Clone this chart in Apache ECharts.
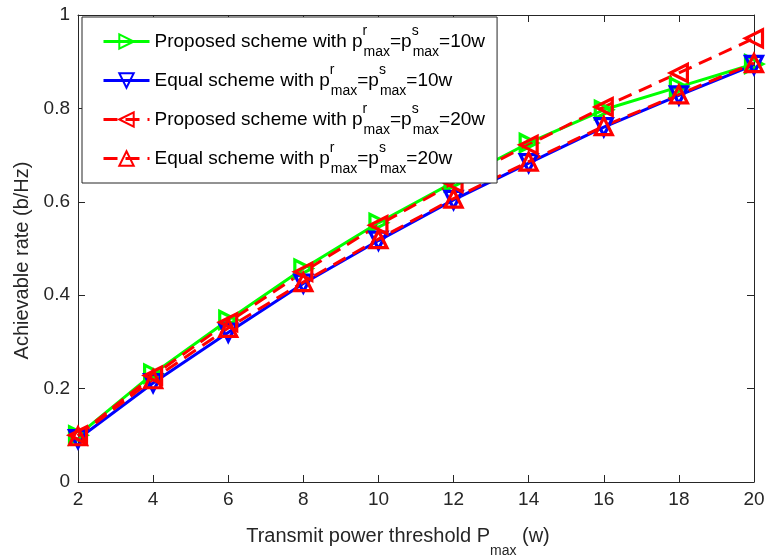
<!DOCTYPE html>
<html>
<head>
<meta charset="utf-8">
<script src="https://cdn.jsdelivr.net/npm/echarts@6/dist/echarts.min.js"></script>
<style>
  html, body { margin: 0; padding: 0; background: #fff; }
  #chart { width: 766px; height: 558px; }
</style>
</head>
<body>
<div id="chart"></div>
<script>
// Transmit power threshold values (w)
const powerLevels = [2, 4, 6, 8, 10, 12, 14, 16, 18, 20];

// Achievable rate (b/Hz) for each scheme
const proposed10 = [0.100, 0.232, 0.347, 0.457, 0.555, 0.642, 0.726, 0.797, 0.846, 0.895];
const equal10    = [0.092, 0.212, 0.320, 0.425, 0.517, 0.604, 0.683, 0.760, 0.828, 0.893];
const proposed20 = [0.100, 0.228, 0.342, 0.450, 0.550, 0.640, 0.722, 0.803, 0.876, 0.950];
const equal20    = [0.098, 0.220, 0.330, 0.428, 0.520, 0.607, 0.686, 0.762, 0.830, 0.897];

const seriesNames = [
  'Proposed scheme with p{sup|r}{sub|max}=p{sup|s}{sub|max}=10w',
  'Equal scheme with p{sup|r}{sub|max}=p{sup|s}{sub|max}=10w',
  'Proposed scheme with p{sup|r}{sub|max}=p{sup|s}{sub|max}=20w',
  'Equal scheme with p{sup|r}{sub|max}=p{sup|s}{sub|max}=20w'
];

const yTicks = [0, 0.2, 0.4, 0.6, 0.8, 1];

const FONT = '"Liberation Sans", Arial, Helvetica, sans-serif';
const INK = '#262626';

function pairs(vals) {
  return powerLevels.map((x, i) => [x, vals[i]]);
}

function makeSeries(name, vals, color, dashed, rotate) {
  return {
    name: name,
    type: 'line',
    data: pairs(vals),
    symbol: 'triangle',
    symbolSize: 17,
    symbolRotate: rotate,
    showSymbol: true,
    lineStyle: { color: color, width: 3, type: dashed ? [14, 8] : 'solid' },
    itemStyle: { color: 'rgba(0,0,0,0)', borderColor: color, borderWidth: 3.2 },
    emphasis: { disabled: true },
    z: 2
  };
}

const chart = echarts.init(document.getElementById('chart'));

const subRich = {
  sub: { fontSize: 14, fontFamily: FONT, color: INK, verticalAlign: 'bottom', padding: [0, 0, -12, 0] }
};

chart.setOption({
  animation: false,
  backgroundColor: '#fff',
  grid: { left: 78, right: 12, top: 15, bottom: 76, containLabel: false, outerBoundsMode: 'none' },
  xAxis: [
    {
      type: 'value', min: 2, max: 20, interval: 2,
      axisLine: { show: true, onZero: false, lineStyle: { color: INK, width: 1 } },
      axisTick: { show: true, inside: true, length: 7, lineStyle: { color: INK } },
      axisLabel: { color: INK, fontSize: 19, fontFamily: FONT, margin: 8 },
      splitLine: { show: false },
      name: 'Transmit power threshold P{sub|max} (w)',
      nameLocation: 'middle',
      nameGap: 44,
      nameTextStyle: { color: INK, fontSize: 20, fontFamily: FONT, padding: [0, 36, 0, 0], rich: subRich }
    },
    {
      type: 'value', min: 2, max: 20, interval: 2, position: 'top',
      axisLine: { show: true, onZero: false, lineStyle: { color: INK, width: 1 } },
      axisTick: { show: true, inside: true, length: 7, lineStyle: { color: INK } },
      axisLabel: { show: false },
      splitLine: { show: false }
    }
  ],
  yAxis: [
    {
      type: 'value', min: 0, max: 1, interval: 0.2,
      axisLine: { show: true, onZero: false, lineStyle: { color: INK, width: 1 } },
      axisTick: { show: true, inside: true, length: 7, lineStyle: { color: INK } },
      axisLabel: {
        color: INK, fontSize: 19, fontFamily: FONT, margin: 8,
        formatter: v => {
          const t = yTicks.find(k => Math.abs(k - v) < 1e-9);
          return t === undefined ? '' : String(t);
        }
      },
      splitLine: { show: false },
      name: 'Achievable rate (b/Hz)',
      nameLocation: 'middle',
      nameGap: 46,
      nameTextStyle: { color: INK, fontSize: 20, fontFamily: FONT, padding: [0, 24, 0, 0] }
    },
    {
      type: 'value', min: 0, max: 1, interval: 0.2, position: 'right',
      axisLine: { show: true, onZero: false, lineStyle: { color: INK, width: 1 } },
      axisTick: { show: true, inside: true, length: 7, lineStyle: { color: INK } },
      axisLabel: { show: false },
      splitLine: { show: false }
    }
  ],
  legend: {
    show: true,
    orient: 'vertical',
    left: 82,
    top: 17,
    padding: [7, 12, 7, 20],
    itemGap: 4,
    itemWidth: 46,
    itemHeight: 18,
    backgroundColor: '#fff',
    borderColor: INK,
    borderWidth: 1,
    borderRadius: 0,
    data: seriesNames,
    lineStyle: { width: 3 },
    textStyle: {
      color: '#000', fontSize: 19, fontFamily: FONT, lineHeight: 35,
      rich: {
        sup: { fontSize: 14, fontFamily: FONT, color: '#000', width: 1, verticalAlign: 'top', lineHeight: 35 },
        sub: { fontSize: 14, fontFamily: FONT, color: '#000', verticalAlign: 'bottom', lineHeight: 35 }
      }
    }
  },
  series: [
    makeSeries(seriesNames[0], proposed10, '#00ff00', false, -90),
    makeSeries(seriesNames[1], equal10, '#0000ff', false, 180),
    makeSeries(seriesNames[2], proposed20, '#ff0000', true, 90),
    makeSeries(seriesNames[3], equal20, '#ff0000', true, 0)
  ]
});
</script>
</body>
</html>
